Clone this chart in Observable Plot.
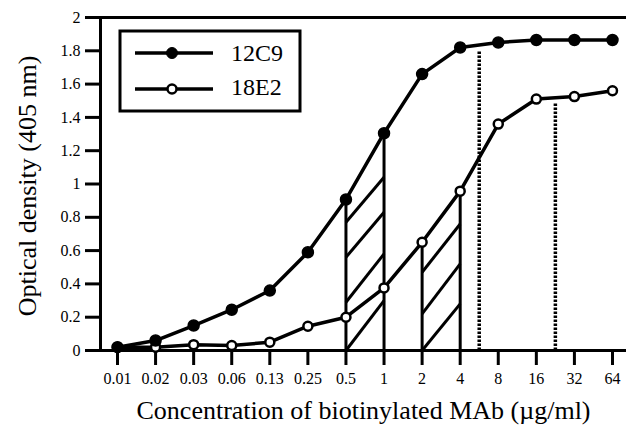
<!DOCTYPE html>
<html>
<head>
<meta charset="utf-8">
<script src="https://cdn.jsdelivr.net/npm/d3@7"></script>
<script src="https://cdn.jsdelivr.net/npm/@observablehq/plot@0.6"></script>
<style>
  html, body { margin: 0; padding: 0; background: #fff; }
  #chart { width: 626px; height: 426px; }
</style>
</head>
<body>
<div id="chart"></div>
<script>
// ---- data ----
const concentrations = ["0.01","0.02","0.03","0.06","0.13","0.25","0.5","1","2","4","8","16","32","64"];
const od12C9 = [0.02, 0.06, 0.15, 0.245, 0.36, 0.59, 0.907, 1.305, 1.66, 1.82, 1.85, 1.865, 1.865, 1.865];
const od18E2 = [0.02, 0.02, 0.035, 0.03, 0.05, 0.146, 0.2, 0.376, 0.65, 0.957, 1.36, 1.51, 1.525, 1.56];
const yTicks = [0, 0.2, 0.4, 0.6, 0.8, 1, 1.2, 1.4, 1.6, 1.8, 2];
const seriesNames = ["12C9", "18E2"];
// hatch segments (concentration index, OD)
const hatchX1 = [6, 6, 6, 6, 8, 8, 8];
const hatchY1 = [0, 0.29, 0.56, 0.77, 0, 0.22, 0.47];
const hatchX2 = [7, 7, 7, 7, 9, 9, 9];
const hatchY2 = [0.30, 0.58, 0.83, 1.04, 0.28, 0.52, 0.76];
// solid vertical boundaries of hatched regions
const boundX = [6, 7, 8, 9];
const boundTop = [0.907, 1.305, 0.65, 0.957];
// dotted vertical markers (between concentrations)
const dottedX = [9.5, 11.5];
const dottedTop = [1.80, 1.48];

// ---- tables ----
const d12 = concentrations.map((c, i) => ({i, od: od12C9[i]}));
const d18 = concentrations.map((c, i) => ({i, od: od18E2[i]}));
const hatch = hatchX1.map((x, k) => ({x1: x, y1: hatchY1[k], x2: hatchX2[k], y2: hatchY2[k]}));
const bounds = boundX.map((x, k) => ({x, top: boundTop[k]}));
const dotted = dottedX.map((x, k) => ({x, top: dottedTop[k]}));

const xDomain = [-0.4465, 13.368];
const font = "'Liberation Serif', 'Times New Roman', serif";

const svg = Plot.plot({
  width: 626,
  height: 426,
  marginLeft: 100,
  marginRight: 0,
  marginTop: 17,
  marginBottom: 76,
  style: {fontFamily: font, fontSize: "16px", background: "white", color: "black"},
  x: {type: "linear", domain: xDomain},
  y: {type: "linear", domain: [0, 2]},
  marks: [
    Plot.axisX({ticks: d3.range(concentrations.length), tickFormat: i => concentrations[i],
      tickSize: 15, tickPadding: 7, strokeWidth: 3, fontSize: 16, fontFamily: font, label: null}),
    Plot.axisY({ticks: yTicks, tickFormat: d => String(+d.toFixed(1)),
      tickSize: 15, tickPadding: 5, strokeWidth: 3, fontSize: 16, fontFamily: font, label: null}),
    Plot.ruleY([0], {strokeWidth: 3}),
    Plot.ruleY([2], {strokeWidth: 3}),
    Plot.ruleX([xDomain[0]], {strokeWidth: 3}),
    Plot.ruleX(dotted, {x: "x", y1: 0, y2: "top", strokeWidth: 3.5, strokeDasharray: "2.5,1.5"}),
    Plot.ruleX(bounds, {x: "x", y1: 0, y2: "top", strokeWidth: 3}),
    Plot.link(hatch, {x1: "x1", y1: "y1", x2: "x2", y2: "y2", strokeWidth: 3}),
    Plot.line(d18, {x: "i", y: "od", strokeWidth: 3.5}),
    Plot.line(d12, {x: "i", y: "od", strokeWidth: 3.5}),
    Plot.dot(d18, {x: "i", y: "od", r: 4.5, fill: "white", stroke: "black", strokeWidth: 2.5}),
    Plot.dot(d12, {x: "i", y: "od", r: 5.5, fill: "black", stroke: "black"}),
    Plot.text(["Optical density (405 nm)"], {frameAnchor: "left", rotate: -90, dx: -73, dy: 2,
      fontSize: 26, fontFamily: font, fill: "black", textAnchor: "middle", lineAnchor: "middle"}),
    Plot.text(["Concentration of biotinylated MAb (\u00b5g/ml)"], {frameAnchor: "bottom", dy: 60,
      fontSize: 26, fontFamily: font, fill: "black", textAnchor: "middle", lineAnchor: "middle"})
  ]
});
document.getElementById("chart").appendChild(svg);

// ---- legend ----
const s = d3.select(svg);
const lg = s.append("g");
lg.append("rect").attr("x", 120).attr("y", 31).attr("width", 180).attr("height", 80)
  .attr("fill", "white").attr("stroke", "black").attr("stroke-width", 3);
seriesNames.forEach((name, k) => {
  const y = k === 0 ? 53 : 89;
  lg.append("line").attr("x1", 135).attr("x2", 213).attr("y1", y).attr("y2", y)
    .attr("stroke", "black").attr("stroke-width", 3.5);
  lg.append("circle").attr("cx", 172).attr("cy", y).attr("r", k === 0 ? 5.5 : 4.5)
    .attr("fill", k === 0 ? "black" : "white").attr("stroke", "black").attr("stroke-width", k === 0 ? 1 : 2.5);
  lg.append("text").attr("x", 231).attr("y", k === 0 ? 61 : 95)
    .attr("text-anchor", "start")
    .style("font-family", font).style("font-size", "24px").attr("fill", "black").text(name);
});
</script>
</body>
</html>
